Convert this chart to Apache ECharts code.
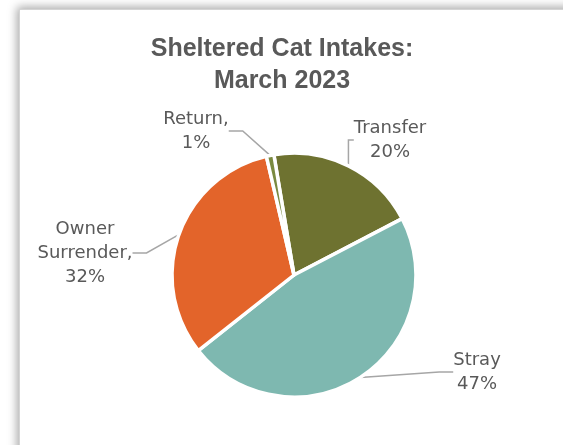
<!DOCTYPE html>
<html>
<head>
<meta charset="utf-8">
<script src="https://cdn.jsdelivr.net/npm/echarts@6/dist/echarts.min.js"></script>
<style>
  html, body { margin: 0; padding: 0; background: #ffffff; }
  #frame {
    position: absolute; left: 19px; top: 9px; width: 600px; height: 500px;
    background: #ffffff; border: 1px solid #d4d4d4;
    box-shadow: 0 0 9px 2px rgba(0, 0, 0, 0.35);
  }
  #chart { position: absolute; left: 0; top: 0; width: 563px; height: 445px; }
</style>
</head>
<body>
<div id="frame"></div>
<div id="chart"></div>
<script>
// 数据
const categories = ['Transfer', 'Stray', 'Owner Surrender', 'Return'];
const percents = [20, 47, 32, 1];
const labelTexts = ['Transfer\n20%', 'Stray\n47%', 'Owner\nSurrender,\n32%', 'Return,\n1%'];
const colors = ['#6e7230', '#7eb8b0', '#e3642a', '#7a8a40'];

// 标签位置 (label centers)
const labelPos = [[390, 140], [477, 372], [85, 253], [196, 131]];

const chart = echarts.init(document.getElementById('chart'), null, { renderer: 'canvas' });

const option = {
  backgroundColor: 'transparent',
  title: {
    text: 'Sheltered Cat Intakes:\nMarch 2023',
    left: 277,
    top: 28,
    textAlign: 'center',
    textStyle: {
      fontFamily: 'Liberation Sans',
      fontSize: 25,
      fontWeight: 'bold',
      color: '#595959',
      lineHeight: 32
    }
  },
  series: [{
    type: 'pie',
    center: [294, 275],
    radius: 122,
    startAngle: 99.5,
    clockwise: true,
    avoidLabelOverlap: false,
    itemStyle: {
      borderColor: '#ffffff',
      borderWidth: 3.5
    },
    label: {
      show: true,
      position: 'outside',
      fontFamily: 'DejaVu Sans',
      fontSize: 18,
      lineHeight: 24,
      color: '#595959',
      align: 'center',
      formatter: function (p) {
        return labelTexts[p.dataIndex];
      }
    },
    labelLine: {
      show: true,
      length: 10,
      length2: 14,
      lineStyle: { color: '#a6a6a6', width: 1.5 }
    },
    labelLayout: function (params) {
      const pos = labelPos[params.dataIndex];
      return { x: pos[0], y: pos[1], align: 'center', verticalAlign: 'middle' };
    },
    emphasis: { disabled: true },
    data: categories.map((name, i) => ({
      name: name,
      value: percents[i],
      itemStyle: { color: colors[i] }
    }))
  }]
};

chart.setOption(option);
</script>
</body>
</html>
